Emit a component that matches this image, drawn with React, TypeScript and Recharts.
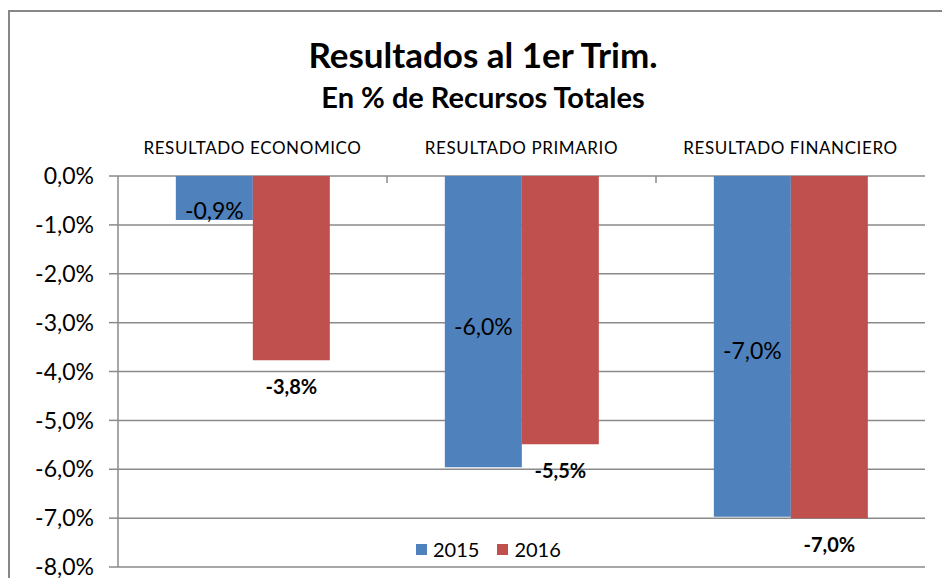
import React from "react";
import { BarChart, Bar, XAxis, YAxis, CartesianGrid, Legend, LabelList } from "recharts";

const categories = ["RESULTADO ECONOMICO", "RESULTADO PRIMARIO", "RESULTADO FINANCIERO"];
const values2015 = [-0.9, -5.96, -6.97];
const values2016 = [-3.77, -5.49, -7.0];
const yTicks = [0, -1, -2, -3, -4, -5, -6, -7, -8];
const seriesNames = ["2015", "2016"];

const BLUE = "#4F81BD";
const RED = "#C0504D";
const GRID = "#8a8a8a";
const FONT = "Lato, 'Noto Sans', sans-serif";

const data = categories.map((name, i) => ({
  name,
  y2015: values2015[i],
  y2016: values2016[i],
}));

function pct(v: number) {
  return v.toFixed(1).replace(".", ",") + "%";
}

// label inside the blue bars (centered, or near the end for short bars)
function insideLabel(props: any) {
  const { x, y, width, height, value } = props;
  const top = Math.min(y, y + height);
  const bottom = Math.max(y, y + height);
  const h = bottom - top;
  const cy = h < 80 ? bottom - 10 : top + h / 2 + 4;
  return (
    <text x={x + width / 2} y={cy} textAnchor="middle" dominantBaseline="central"
      fontFamily={FONT} fontSize={23} fill="#000">
      {pct(value)}
    </text>
  );
}

// bold label below the red bars
function outsideLabel(props: any) {
  const { x, y, width, height, value } = props;
  const bottom = Math.max(y, y + height);
  return (
    <text x={x + width / 2} y={bottom + 26} textAnchor="middle" dominantBaseline="central"
      fontFamily={FONT} fontSize={20} fontWeight="bold" fill="#000">
      {pct(value)}
    </text>
  );
}

function CategoryTick(props: any) {
  const { x, y, payload, index } = props;
  const half = payload.offset || 0;
  return (
    <g>
      <text x={x} y={y - 8} textAnchor="middle" fontFamily={FONT} fontSize={17}
        letterSpacing={0.6} fill="#000">
        {payload.value}
      </text>
      {index > 0 && (
        <line x1={x - half} x2={x - half} y1={y + 14} y2={y + 21} stroke={GRID} strokeWidth={1.5} />
      )}
    </g>
  );
}

function renderLegend() {
  const colors = [BLUE, RED];
  return (
    <div style={{ display: "flex", alignItems: "center", fontFamily: FONT, fontSize: 20 }}>
      {seriesNames.map((n, i) => (
        <div key={n} style={{ display: "flex", alignItems: "center", marginRight: 18 }}>
          <span style={{ display: "inline-block", width: 11, height: 11, background: colors[i], marginRight: 6 }} />
          <span>{n}</span>
        </div>
      ))}
    </div>
  );
}

export default function App() {
  return (
    <div style={{ position: "fixed", left: 0, top: 0, width: 942, height: 578, overflow: "hidden", background: "#fff" }}>
      <div style={{ position: "absolute", left: 8, top: 10, width: 980, height: 640, border: "2px solid #878787" }} />
      <div style={{ position: "absolute", left: 0, top: 33, width: 966, textAlign: "center", fontFamily: FONT, fontWeight: "bold", fontSize: 35, lineHeight: "42px" }}>
        Resultados al 1er Trim.
      </div>
      <div style={{ position: "absolute", left: 0, top: 80, width: 966, textAlign: "center", fontFamily: FONT, fontWeight: "bold", fontSize: 29, lineHeight: "34px" }}>
        En % de Recursos Totales
      </div>
      <div style={{ position: "absolute", left: 0, top: 0 }}>
        <BarChart width={942} height={578} data={data}
          margin={{ top: 136, right: 17, bottom: 11, left: 0 }}
          barCategoryGap="21.5%" barGap={0}>
          <CartesianGrid vertical={false} stroke={GRID} strokeWidth={1.5} />
          <XAxis dataKey="name" orientation="top" height={40} axisLine={false} tickLine={false}
            tickSize={0} tickMargin={14} interval={0} tick={<CategoryTick />} />
          <YAxis domain={[-8, 0]} ticks={yTicks} interval={0} width={118} tickSize={9} tickMargin={15}
            axisLine={{ stroke: GRID, strokeWidth: 1.5 }} tickLine={{ stroke: GRID, strokeWidth: 1.5 }}
            tickFormatter={pct}
            tick={{ fontFamily: FONT, fontSize: 23, fill: "#000" }} />
          <Legend layout="horizontal" verticalAlign="middle" align="center" content={renderLegend}
            wrapperStyle={{ position: "absolute", left: 416, top: 537, width: 200, height: 22 }} />
          <Bar dataKey="y2015" name="2015" fill={BLUE} isAnimationActive={false}>
            <LabelList dataKey="y2015" content={insideLabel} />
          </Bar>
          <Bar dataKey="y2016" name="2016" fill={RED} isAnimationActive={false}>
            <LabelList dataKey="y2016" content={outsideLabel} />
          </Bar>
        </BarChart>
      </div>
    </div>
  );
}
